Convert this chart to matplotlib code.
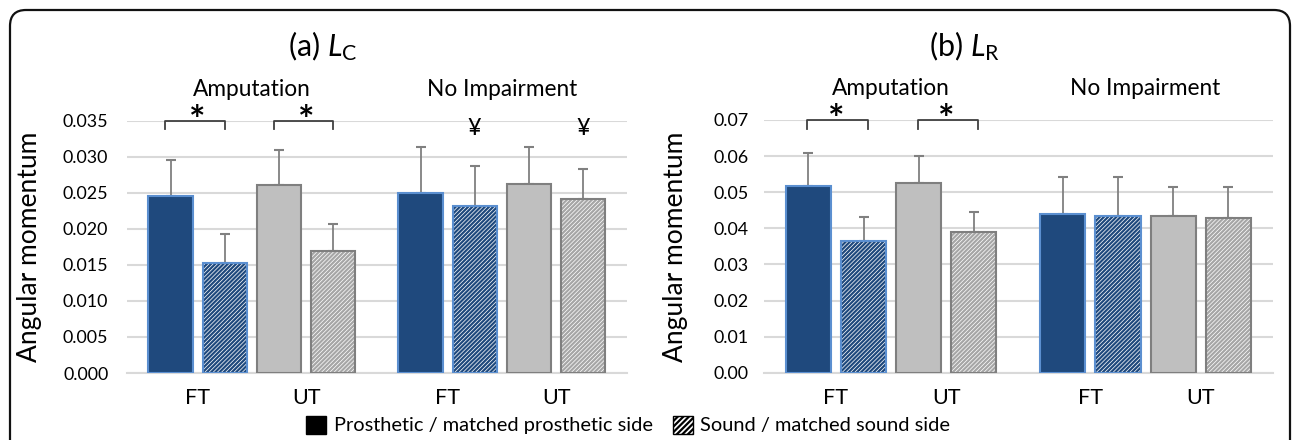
import matplotlib
matplotlib.use("Agg")
import matplotlib.pyplot as plt
import numpy as np
from matplotlib.patches import Patch, FancyBboxPatch
from matplotlib.transforms import IdentityTransform, blended_transform_factory

plt.rcParams['font.family'] = ['Lato', 'DejaVu Sans']
plt.rcParams['mathtext.fontset'] = 'custom'
plt.rcParams['mathtext.rm'] = 'Lato'
plt.rcParams['mathtext.it'] = 'Lato:italic'
plt.rcParams['hatch.linewidth'] = 1.6

# data
tick_labels = ['FT', 'UT', 'FT', 'UT']
groups = ['Amputation', 'No Impairment']

# (a) L_C : prosthetic and sound means / upper error (SD)
lc_prost = [0.0246, 0.0261, 0.0250, 0.0262]
lc_prost_sd = [0.0049, 0.0048, 0.0063, 0.0052]
lc_sound = [0.0152, 0.0169, 0.0232, 0.0241]
lc_sound_sd = [0.0041, 0.0038, 0.0055, 0.0042]

# (b) L_R
lr_prost = [0.0517, 0.0526, 0.0439, 0.0435]
lr_prost_sd = [0.0092, 0.0074, 0.0102, 0.0079]
lr_sound = [0.0365, 0.0389, 0.0435, 0.0429]
lr_sound_sd = [0.0066, 0.0056, 0.0108, 0.0085]

W, H = 1292, 440
fig = plt.figure(figsize=(W / 100, H / 100), dpi=100)

# rounded frame (pixels, bottom edge runs off the image)
frame = FancyBboxPatch((10, -60), 1280, 490,
                       boxstyle="round,pad=0,rounding_size=16",
                       transform=IdentityTransform(), fill=False, lw=1.6,
                       ec='#111111', clip_on=False)
fig.patches.append(frame)

cat_x = np.array([0, 1, 2.307, 3.307])
off = 0.25
bw = 0.41

navy = '#1F497D'
navy_edge = '#5B8FD0'
grey = '#BFBFBF'
grey_edge = '#7F7F7F'
grey_hatch = '#A6A6A6'


def panel(rect, prost, prost_sd, sound, sound_sd, ymax, step, fmt, title, title_x,
          ylab_x, ypad, br, stars, yen):
    ax = fig.add_axes(rect)
    ax.set_xlim(-0.652, 3.962)
    ax.set_ylim(0, ymax)
    ax.set_yticks(np.arange(0, ymax + step / 2, step))
    ax.yaxis.set_major_formatter(matplotlib.ticker.FormatStrFormatter(fmt))
    ax.grid(axis='y', color='#D9D9D9', lw=1.5, zorder=0)
    ax.set_axisbelow(True)
    for s in ['top', 'right', 'left']:
        ax.spines[s].set_visible(False)
    ax.spines['bottom'].set_color('#D9D9D9')
    ax.spines['bottom'].set_linewidth(1.5)
    ax.tick_params(axis='both', length=0, colors='black')
    ax.tick_params(axis='x', pad=11, labelsize=15.5)
    ax.tick_params(axis='y', pad=ypad, labelsize=12.9)
    ax.set_xticks(cat_x)
    ax.set_xticklabels(tick_labels)

    px = cat_x - off
    sx = cat_x + off
    fc_p = [navy, grey, navy, grey]
    ec_p = [navy_edge, grey_edge, navy_edge, grey_edge]
    hc_s = [navy, grey_hatch, navy, grey_hatch]
    ec_s = [navy_edge, grey_edge, navy_edge, grey_edge]

    ax.bar(px, prost, bw, color=fc_p, edgecolor=ec_p, lw=1.5, zorder=3)
    ax.errorbar(px, prost, yerr=[np.zeros(4), prost_sd], fmt='none',
                ecolor='#808080', elinewidth=1.3, capsize=3.5, capthick=1.5, zorder=2)
    for i in range(4):
        ax.bar(sx[i], sound[i], bw, color='white', edgecolor=hc_s[i], lw=0,
               hatch='////////', zorder=3)
        ax.bar(sx[i], sound[i], bw, fill=False, edgecolor=ec_s[i], lw=1.5, zorder=4)
    ax.errorbar(sx, sound, yerr=[np.zeros(4), sound_sd], fmt='none',
                ecolor='#808080', elinewidth=1.3, capsize=3.5, capthick=1.5, zorder=2)

    ax.yaxis.set_label_coords(ylab_x, 0.5)
    ax.set_ylabel('Angular momentum', fontsize=19)

    tr = blended_transform_factory(ax.transData, ax.transAxes)
    for k in range(2):
        ax.text((cat_x[2 * k] + cat_x[2 * k + 1]) / 2, 1.123, groups[k],
                transform=tr, ha='center', va='center', fontsize=16.3)

    px_unit = ymax / 252.5
    for i in stars:
        x0, x1 = cat_x[i] + br[0], cat_x[i] + br[1]
        ax.plot([x0, x0, x1, x1], [ymax - 8.6 * px_unit, ymax, ymax, ymax - 8.6 * px_unit],
                color='#404040', lw=1.3, clip_on=False, zorder=5)
        ax.text(cat_x[i], ymax - 12 * px_unit, '*', ha='center', va='baseline',
                fontsize=28, fontweight='bold', clip_on=False)
    for i in yen:
        ax.text(sx[i], ymax - 14.5 * px_unit, '¥', ha='center', va='baseline',
                fontsize=17, clip_on=False)

    fig.text(title_x, 1 - 46 / H, title, ha='center', va='center', fontsize=22)
    return ax


panel([127 / W, 67 / H, 500 / W, 252.3 / H], lc_prost, lc_prost_sd, lc_sound,
      lc_sound_sd, 0.035, 0.005, '%.3f', r'(a) $L_{\mathrm{C}}$', 323 / W,
      -0.169, 13.5, (-0.30, 0.25), [0, 1], [2, 3])
panel([764 / W, 67.3 / H, 509 / W, 252.7 / H], lr_prost, lr_prost_sd, lr_sound,
      lr_sound_sd, 0.07, 0.01, '%.2f', r'(b) $L_{\mathrm{R}}$', 964 / W,
      -0.149, 11, (-0.26, 0.29), [0, 1], [])

handles = [Patch(facecolor='black', edgecolor='black'),
           Patch(facecolor='white', edgecolor='black', hatch='//////')]
fig.legend(handles, ['Prosthetic / matched prosthetic side',
                     'Sound / matched sound side'],
           loc='center', bbox_to_anchor=(628 / W, 1 - 425 / H), ncol=2,
           frameon=False, fontsize=14.4, handlelength=1.0, handleheight=1.0,
           handletextpad=0.4, columnspacing=1.0, borderpad=0)

fig.savefig('out.png', dpi=100)
